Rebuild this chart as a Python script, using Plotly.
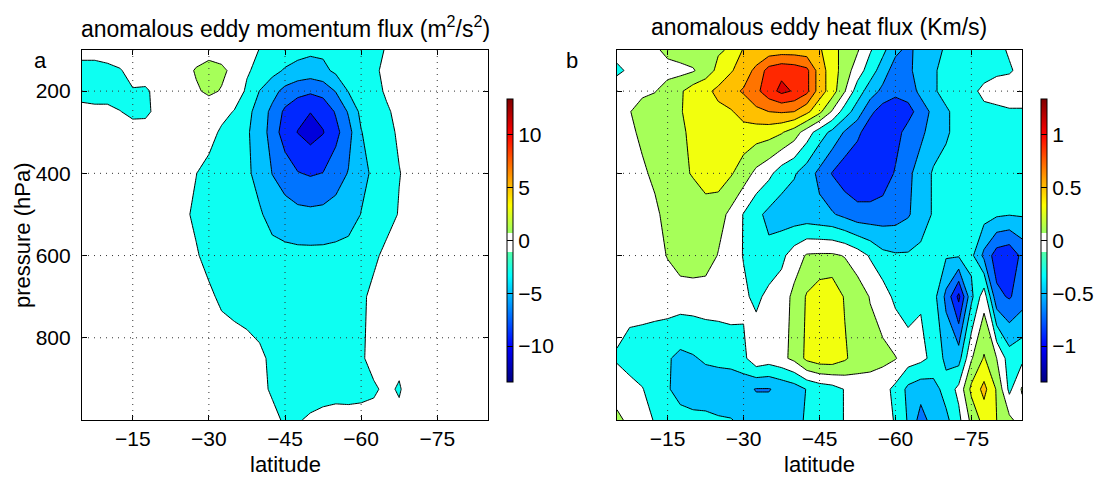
import plotly.graph_objects as go

# ---- grid -------------------------------------------------------------
LAT = [-5.0, -7.5, -10.0, -12.5, -15.0, -17.5, -20.0, -22.5, -25.0, -27.5, -30.0,
       -32.5, -35.0, -37.5, -40.0, -42.5, -45.0, -47.5, -50.0, -52.5, -55.0,
       -57.5, -60.0, -62.5, -65.0, -67.5, -70.0, -72.5, -75.0, -77.5, -80.0,
       -82.5, -85.0]
PRESSURE = [100, 150, 200, 250, 300, 400, 500, 600, 700, 850, 925, 1000]

# anomalous eddy momentum flux (m^2/s^2), rows follow PRESSURE, columns follow LAT
MOMENTUM_FLUX = [
    [-0.4, -0.4, -0.1, -0.2, -0.1, 0.0, 0.0, 0.0, 0.1, 0.2, 0.4, 0.3, 0.1, -0.4, -1.05, -1.5, -1.9, -2.3, -2.6, -2.6, -2.4, -2.1, -1.8, -1.4, -0.9, -0.5, -0.3, -0.2, -0.2, -0.1, -0.1, 0.0, 0.0],
    [-1.6, -1.6, -1.5, -1.1, -0.5, -0.3, -0.1, 0.1, 0.4, 1.15, 1.6, 1.3, 0.6, -0.8, -1.5, -2.4, -3.2, -3.7, -3.9, -3.5, -2.6, -2.2, -1.9, -1.3, -0.6, -0.3, -0.2, -0.2, -0.1, -0.1, 0.0, 0.0, 0.0],
    [-1.6, -1.7, -1.7, -1.8, -1.1, -1.2, -0.6, -0.2, 0.1, 0.8, 1.3, 0.9, 0.1, -1.3, -3.05, -4.3, -5.6, -6.3, -6.7, -6.3, -4.9, -2.9, -2.0, -1.5, -0.8, -0.4, -0.3, -0.2, -0.1, -0.1, 0.0, 0.0, 0.0],
    [-0.5, -0.6, -0.6, -0.95, -1.4, -1.3, -0.6, -0.3, -0.2, -0.3, 0.0, -0.4, -1.1, -2.4, -3.9, -5.5, -7.4, -8.5, -8.95, -8.4, -6.8, -4.8, -2.5, -1.8, -1.2, -0.6, -0.4, -0.3, -0.2, -0.2, -0.1, -0.1, 0.0],
    [-0.3, -0.3, -0.3, -0.3, -0.3, -0.4, -0.3, -0.2, -0.2, -0.3, -0.3, -1.3, -2.0, -2.8, -3.8, -5.9, -8.0, -9.05, -9.8, -9.1, -7.6, -5.7, -3.1, -1.85, -1.4, -0.8, -0.5, -0.3, -0.3, -0.2, -0.2, -0.1, -0.1],
    [-0.4, -0.4, -0.4, -0.4, -0.4, -0.4, -0.4, -0.3, -0.3, -0.97, -1.6, -1.9, -2.2, -2.7, -3.6, -5.05, -5.9, -6.9, -7.2, -6.95, -5.9, -4.9, -3.5, -2.7, -1.9, -1.05, -0.6, -0.4, -0.3, -0.3, -0.2, -0.2, -0.1],
    [-0.4, -0.4, -0.4, -0.4, -0.4, -0.4, -0.4, -0.5, -0.7, -1.3, -1.7, -1.9, -2.1, -2.3, -2.8, -3.6, -4.2, -4.4, -4.5, -4.4, -4.2, -3.9, -2.95, -2.2, -1.6, -0.9, -0.5, -0.4, -0.3, -0.3, -0.2, -0.2, -0.1],
    [-0.4, -0.4, -0.3, -0.3, -0.3, -0.3, -0.3, -0.4, -0.6, -0.85, -1.5, -1.8, -2.0, -2.2, -2.3, -2.4, -2.4, -2.5, -2.5, -2.5, -2.4, -2.2, -2.1, -1.3, -0.6, -0.4, -0.3, -0.3, -0.2, -0.2, -0.2, -0.1, -0.1],
    [-0.3, -0.3, -0.3, -0.3, -0.3, -0.3, -0.3, -0.3, -0.3, -0.4, -0.7, -1.3, -1.6, -1.8, -1.9, -2.0, -2.1, -2.1, -2.1, -2.0, -1.9, -1.7, -1.3, -0.6, -0.4, -0.3, -0.3, -0.2, -0.2, -0.2, -0.1, -0.1, -0.1],
    [-0.3, -0.3, -0.3, -0.3, -0.3, -0.3, -0.3, -0.3, -0.2, -0.1, 0.0, 0.0, -0.1, -0.3, -0.7, -1.3, -1.6, -1.7, -1.7, -1.7, -1.6, -1.5, -1.2, -0.5, -0.4, -0.6, -0.3, -0.2, -0.2, -0.2, -0.1, -0.1, -0.1],
    [-0.3, -0.3, -0.3, -0.3, -0.3, -0.3, -0.3, -0.3, -0.3, -0.3, -0.3, -0.3, -0.3, -0.3, -0.6, -1.2, -1.5, -1.6, -1.6, -1.6, -1.5, -1.5, -1.4, -1.2, -0.7, -1.15, -0.2, -0.3, -0.2, -0.2, -0.1, -0.1, -0.1],
    [-0.3, -0.3, -0.3, -0.3, -0.3, -0.3, -0.3, -0.3, -0.3, -0.3, -0.3, -0.3, -0.3, -0.3, -0.3, -0.6, -1.2, -1.1, -0.82, -0.55, -0.45, -0.5, -0.5, -0.5, -0.5, -0.6, -0.3, -0.2, -0.2, -0.2, -0.1, -0.1, -0.1],
]

# anomalous eddy heat flux (K m/s), same layout
HEAT_FLUX = [
    [-0.01, 0.0, 0.02, 0.06, 0.16, 0.2, 0.22, 0.25, 0.28, 0.32, 0.52, 0.55, 0.58, 0.6, 0.6, 0.58, 0.52, 0.4, 0.2, 0.12, -0.08, -0.25, -0.45, -0.55, -0.42, -0.35, -0.28, -0.2, -0.2, -0.18, -0.15, -0.08, -0.02],
    [-0.15, -0.06, 0.0, 0.0, 0.02, 0.04, 0.08, 0.2, 0.35, 0.48, 0.6, 0.75, 0.98, 1.05, 1.02, 0.95, 0.6, 0.4, 0.2, 0.0, -0.2, -0.4, -0.6, -0.55, -0.4, -0.32, -0.25, -0.2, -0.2, -0.18, -0.14, -0.12, -0.05],
    [0.05, 0.03, 0.05, 0.09, 0.2, 0.27, 0.4, 0.45, 0.55, 0.65, 0.72, 0.85, 1.02, 1.15, 1.08, 0.95, 0.6, 0.4, 0.11, -0.2, -0.4, -0.55, -0.65, -0.6, -0.45, -0.32, -0.25, -0.2, -0.15, -0.05, 0.0, 0.0, 0.0],
    [0.0, 0.09, 0.2, 0.22, 0.25, 0.28, 0.4, 0.42, 0.45, 0.48, 0.58, 0.65, 0.7, 0.72, 0.7, 0.55, 0.35, 0.08, -0.2, -0.4, -0.65, -0.8, -0.82, -0.78, -0.6, -0.45, -0.32, -0.25, -0.2, -0.15, -0.15, -0.12, -0.12],
    [0.0, 0.05, 0.15, 0.2, 0.22, 0.26, 0.35, 0.4, 0.42, 0.42, 0.42, 0.4, 0.38, 0.32, 0.2, 0.0, -0.2, -0.35, -0.52, -0.65, -0.82, -0.88, -0.78, -0.62, -0.55, -0.4, -0.32, -0.25, -0.2, -0.2, -0.18, -0.15, -0.15],
    [0.0, 0.0, 0.06, 0.15, 0.22, 0.27, 0.31, 0.38, 0.4, 0.32, 0.2, 0.05, -0.05, -0.2, -0.28, -0.4, -0.55, -0.71, -0.82, -0.88, -0.88, -0.82, -0.68, -0.55, -0.4, -0.28, -0.25, -0.2, -0.2, -0.2, -0.2, -0.22, -0.22],
    [0.0, 0.0, 0.0, 0.05, 0.18, 0.22, 0.22, 0.22, 0.18, 0.05, -0.11, -0.25, -0.35, -0.4, -0.42, -0.42, -0.45, -0.48, -0.55, -0.62, -0.62, -0.6, -0.58, -0.52, -0.4, -0.28, -0.25, -0.22, -0.2, -0.22, -0.27, -0.29, -0.28],
    [0.0, 0.0, 0.0, 0.03, 0.11, 0.2, 0.22, 0.2, 0.09, 0.0, -0.11, -0.22, -0.25, -0.15, 0.0, 0.12, 0.13, 0.13, 0.09, 0.0, -0.12, -0.25, -0.28, -0.28, -0.25, -0.25, -0.28, -0.28, -0.25, -0.55, -0.8, -0.85, -0.65],
    [0.0, 0.0, 0.0, 0.0, 0.0, 0.0, 0.0, 0.0, 0.0, 0.0, -0.06, -0.15, -0.04, 0.0, 0.15, 0.32, 0.42, 0.45, 0.28, 0.2, 0.09, 0.0, -0.15, -0.2, -0.12, -0.22, -0.55, -0.95, -0.35, 0.02, -0.65, -0.72, -0.6],
    [-0.12, -0.2, -0.22, -0.25, -0.28, -0.35, -0.32, -0.27, -0.25, -0.22, -0.15, 0.05, 0.0, 0.05, 0.15, 0.35, 0.42, 0.42, 0.33, 0.2, 0.18, 0.15, 0.11, 0.0, -0.05, -0.15, -0.35, -0.38, 0.08, 0.32, 0.1, -0.2, -0.15],
    [0.0, -0.02, -0.09, -0.2, -0.28, -0.38, -0.4, -0.42, -0.42, -0.45, -0.45, -0.51, -0.51, -0.45, -0.4, -0.29, -0.22, -0.18, -0.09, 0.0, 0.0, -0.03, -0.15, -0.35, -0.42, -0.38, -0.22, -0.05, 0.35, 0.56, 0.28, -0.15, 0.12],
    [0.15, 0.05, 0.0, -0.12, -0.2, -0.22, -0.25, -0.25, -0.28, -0.29, -0.35, -0.4, -0.4, -0.38, -0.35, -0.28, -0.22, -0.18, -0.09, 0.0, 0.0, 0.0, -0.12, -0.32, -0.58, -0.42, -0.35, -0.15, 0.15, 0.38, 0.3, 0.15, 0.0],
]

LAT_TICKS = [-15, -30, -45, -60, -75]
PRESSURE_TICKS = [200, 400, 600, 800]
MOMENTUM_CBAR_TICKS = [-10, -5, 0, 5, 10]
HEAT_CBAR_TICKS = [-1, -0.5, 0, 0.5, 1]

# contour levels (start, end, step) and colour limits
MOMENTUM_LEVELS = (-13, 13, 2)
HEAT_LEVELS = (-1.3, 1.3, 0.2)
MOMENTUM_CLIM = 13.4
HEAT_CLIM = 1.34

W, H = 1107, 478
FONT = "Liberation Sans, Arial, Helvetica, sans-serif"
TICK_SIZE = 21
LABEL_SIZE = 22
TITLE_SIZE = 23
WHITE_BAND = (0.46, 0.527)


def jet(t):
    t = min(max(t, 0.0), 1.0)
    r = min(max(min(4 * t - 1.5, -4 * t + 4.5), 0.0), 1.0)
    g = min(max(min(4 * t - 0.5, -4 * t + 3.5), 0.0), 1.0)
    b = min(max(min(4 * t + 0.5, -4 * t + 2.5), 0.0), 1.0)
    return r, g, b


def cmap(t):
    if WHITE_BAND[0] <= t <= WHITE_BAND[1]:
        return 1.0, 1.0, 1.0
    return jet(t)


def rgb(c):
    return "rgb(%d,%d,%d)" % tuple(int(round(v * 255)) for v in c)


def continuous_scale():
    ts = [i / 200 for i in range(201)]
    ts += [WHITE_BAND[0] - 1e-4, WHITE_BAND[0], WHITE_BAND[1], WHITE_BAND[1] + 1e-4]
    ts = sorted(set(ts))
    return [[t, rgb(cmap(t))] for t in ts]


def band_scale(levels, clim):
    # each filled band takes the colour of its lower bounding level
    start, end, step = levels
    count = int(round((end - start) / step)) + 1
    scale = []
    for k in range(count + 1):
        lower = start + (k - 1) * step
        t = (lower + clim) / (2 * clim)
        scale.append([k / count, rgb(cmap(t))])
    return scale


def px(x):
    return x / W


def py(y):
    return 1 - y / H


fig = go.Figure()

panels = [
    dict(z=MOMENTUM_FLUX, levels=MOMENTUM_LEVELS, clim=MOMENTUM_CLIM, ticks=MOMENTUM_CBAR_TICKS,
         xa="x", ya="y", cbar_x=507),
    dict(z=HEAT_FLUX, levels=HEAT_LEVELS, clim=HEAT_CLIM, ticks=HEAT_CBAR_TICKS,
         xa="x2", ya="y2", cbar_x=1041),
]

for p in panels:
    start, end, step = p["levels"]
    fig.add_trace(go.Contour(
        x=LAT, y=PRESSURE, z=p["z"], xaxis=p["xa"], yaxis=p["ya"],
        autocontour=False,
        contours=dict(start=start, end=end, size=step, coloring="fill", showlines=True),
        colorscale=band_scale(p["levels"], p["clim"]),
        showscale=False,
        line=dict(color="black", width=1.0, smoothing=0),
        hoverinfo="skip",
    ))
    # continuous colour bar
    fig.add_trace(go.Scatter(
        x=[-45, -45], y=[500, 500], xaxis=p["xa"], yaxis=p["ya"], mode="markers",
        marker=dict(
            size=1, opacity=0, color=[-p["clim"], p["clim"]],
            cmin=-p["clim"], cmax=p["clim"], colorscale=continuous_scale(), showscale=True,
            colorbar=dict(
                x=px(p["cbar_x"]), xanchor="left", xpad=0, ypad=0,
                y=py(240.5), yanchor="middle", len=283 / H, lenmode="fraction",
                thickness=6, thicknessmode="pixels",
                outlinecolor="black", outlinewidth=1,
                tickvals=p["ticks"], ticks="inside", ticklen=6, tickcolor="black",
                tickfont=dict(size=TICK_SIZE, color="black", family=FONT),
            ),
        ),
        hoverinfo="skip", showlegend=False,
    ))

axis_common = dict(
    showgrid=False, zeroline=False, showline=True, linecolor="black", linewidth=1.2,
    mirror="ticks", ticks="inside", ticklen=5, tickcolor="black",
    tickfont=dict(size=TICK_SIZE, color="black", family=FONT),
)

fig.update_layout(
    width=W, height=H,
    margin=dict(l=0, r=0, t=0, b=0),
    paper_bgcolor="white", plot_bgcolor="white",
    font=dict(family=FONT, color="black", size=TICK_SIZE),
    showlegend=False,
    xaxis=dict(domain=[px(82), px(488)], range=[-5, -85], tickvals=LAT_TICKS,
               anchor="y", ticklabelstandoff=0, **axis_common),
    yaxis=dict(domain=[py(420), py(50)], range=[1000, 100], tickvals=PRESSURE_TICKS,
               anchor="x", ticklabelstandoff=6, **axis_common),
    xaxis2=dict(domain=[px(617), px(1022)], range=[-5, -85], tickvals=LAT_TICKS,
                anchor="y2", ticklabelstandoff=0, **axis_common),
    yaxis2=dict(domain=[py(420), py(50)], range=[1000, 100], tickvals=PRESSURE_TICKS,
                anchor="x2", showticklabels=False, **axis_common),
)

# dotted grid drawn over the filled contours
grid_line = dict(color="#333333", width=1, dash="1px,5px")
for xa, ya in (("x", "y"), ("x2", "y2")):
    for lat in LAT_TICKS:
        fig.add_shape(type="line", xref=xa, yref=ya, x0=lat, x1=lat, y0=100, y1=1000,
                      line=grid_line, layer="above")
    for pr in PRESSURE_TICKS:
        fig.add_shape(type="line", xref=xa, yref=ya, x0=-5, x1=-85, y0=pr, y1=pr,
                      line=grid_line, layer="above")

texts = [
    ("anomalous eddy momentum flux (m<sup>2</sup>/s<sup>2</sup>)", 285, 27, 0, TITLE_SIZE),
    ("anomalous eddy heat flux (Km/s)", 819, 27, 0, TITLE_SIZE),
    ("a", 40, 60, 0, LABEL_SIZE),
    ("b", 572, 60, 0, LABEL_SIZE),
    ("latitude", 285, 464, 0, LABEL_SIZE),
    ("latitude", 819, 464, 0, LABEL_SIZE),
    ("pressure (hPa)", 22, 235, -90, LABEL_SIZE),
]
for text, x, y, angle, size in texts:
    fig.add_annotation(text=text, x=px(x), y=py(y), xref="paper", yref="paper",
                       xanchor="center", yanchor="middle", showarrow=False,
                       textangle=angle, font=dict(size=size, color="black", family=FONT))

fig.write_html("out.html")
